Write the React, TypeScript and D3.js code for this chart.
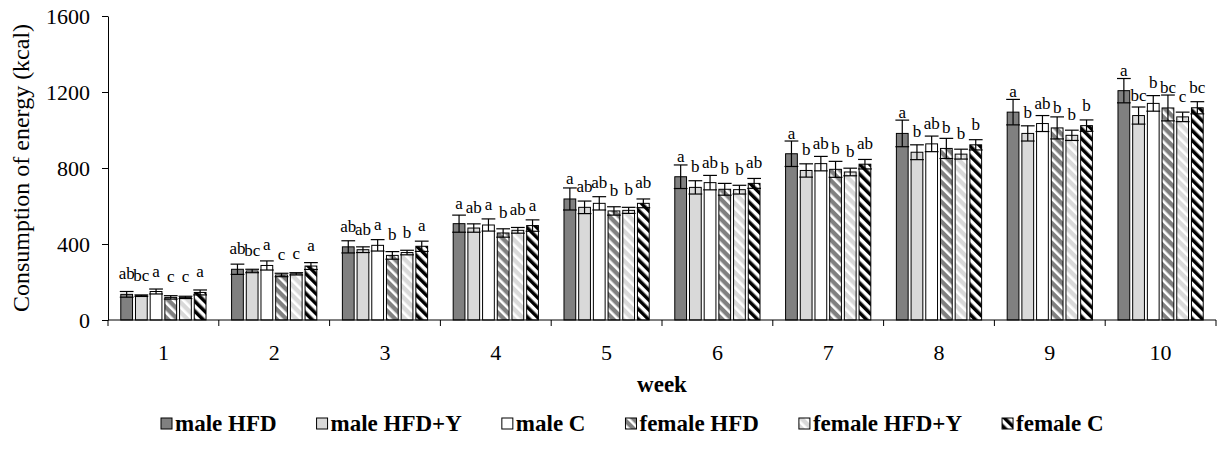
import React, { useEffect, useRef } from "react";
import * as d3 from "d3";

const weeks = ["1", "2", "3", "4", "5", "6", "7", "8", "9", "10"];
const seriesNames = ["male HFD", "male HFD+Y", "male C", "female HFD", "female HFD+Y", "female C"];
const yTicks = [0, 400, 800, 1200, 1600];

// mean consumption per week (kcal)
const maleHFD = [135, 267, 385, 507, 637, 754, 875, 982, 1094, 1207];
const maleHFDY = [128, 258, 370, 484, 593, 698, 787, 883, 982, 1076];
const maleC = [150, 287, 393, 500, 614, 723, 823, 927, 1034, 1140];
const femaleHFD = [119, 237, 340, 458, 574, 688, 793, 903, 1011, 1116];
const femaleHFDY = [119, 243, 355, 472, 577, 686, 779, 873, 972, 1069];
const femaleC = [145, 284, 388, 497, 614, 719, 820, 922, 1023, 1117];

// error (+/-)
const maleHFDErr = [15, 27, 32, 45, 58, 62, 67, 70, 67, 64];
const maleHFDYErr = [4, 9, 15, 22, 33, 35, 35, 39, 40, 45];
const maleCErr = [13, 24, 30, 32, 35, 38, 38, 41, 42, 41];
const femaleHFDErr = [9, 9, 20, 22, 22, 31, 42, 53, 58, 68];
const femaleHFDYErr = [6, 6, 12, 15, 16, 23, 20, 26, 27, 25];
const femaleCErr = [13, 18, 27, 30, 23, 26, 25, 27, 30, 32];

// significance letters
const maleHFDLetters = ["ab", "ab", "ab", "a", "a", "a", "a", "a", "a", "a"];
const maleHFDYLetters = ["bc", "bc", "ab", "ab", "ab", "b", "b", "b", "b", "bc"];
const maleCLetters = ["a", "a", "a", "a", "ab", "ab", "ab", "ab", "ab", "b"];
const femaleHFDLetters = ["c", "c", "b", "b", "b", "b", "b", "b", "b", "bc"];
const femaleHFDYLetters = ["c", "c", "b", "ab", "b", "b", "b", "b", "b", "c"];
const femaleCLetters = ["a", "a", "a", "a", "ab", "ab", "ab", "b", "b", "bc"];

const values = [maleHFD, maleHFDY, maleC, femaleHFD, femaleHFDY, femaleC];
const errors = [maleHFDErr, maleHFDYErr, maleCErr, femaleHFDErr, femaleHFDYErr, femaleCErr];
const letters = [maleHFDLetters, maleHFDYLetters, maleCLetters, femaleHFDLetters, femaleHFDYLetters, femaleCLetters];

const FONT = "'Liberation Serif', 'Times New Roman', serif";

const App = () => {
  const svgRef = useRef<SVGSVGElement>(null);

  useEffect(() => {
    const svg = d3.select(svgRef.current);
    svg.selectAll("*").remove();

    const width = 1217;
    const margin = { left: 108, right: 1, top: 16, bottom: 320 };

    // stripe patterns for the female groups
    const defs = svg.append("defs");
    const stripe = (id: string, bg: string, fg: string, fgWidth: number) => {
      const p = defs
        .append("pattern")
        .attr("id", id)
        .attr("patternUnits", "userSpaceOnUse")
        .attr("width", 7)
        .attr("height", 7)
        .attr("patternTransform", "rotate(-45)");
      p.append("rect").attr("width", 7).attr("height", 7).attr("fill", bg);
      p.append("rect").attr("width", fgWidth).attr("height", 7).attr("fill", fg);
    };
    stripe("pFemHFD", "#808080", "#ffffff", 2.6);
    stripe("pFemHFDY", "#d9d9d9", "#ffffff", 2.6);
    stripe("pFemC", "#ffffff", "#000000", 3.5);

    const fills = ["#808080", "#d9d9d9", "#ffffff", "url(#pFemHFD)", "url(#pFemHFDY)", "url(#pFemC)"];

    const x0 = d3.scaleBand().domain(weeks).range([margin.left, width - 1]).padding(0);
    const x1 = d3
      .scaleBand()
      .domain(seriesNames)
      .range([0, x0.bandwidth()])
      .paddingInner(0.2)
      .paddingOuter(0.87);
    const y = d3.scaleLinear().domain([0, 1600]).range([margin.bottom, margin.top]);

    // y axis
    const yAxis = svg
      .append("g")
      .attr("transform", `translate(${margin.left},0)`)
      .call(d3.axisLeft(y).tickValues(yTicks).tickSize(6).tickSizeOuter(0).tickPadding(12).tickFormat(d3.format("d")));
    yAxis.select(".domain").attr("stroke", "#000").attr("stroke-width", 1);
    yAxis.selectAll(".tick line").attr("stroke", "#000");
    yAxis
      .selectAll(".tick text")
      .attr("fill", "#000")
      .style("font-family", FONT)
      .style("font-size", "22px");

    // bars, error bars and letters (letters sit above the bar top, like Excel data labels)
    const chart = svg.append("g");
    seriesNames.forEach((name, i) => {
      const g = chart.append("g");
      weeks.forEach((w, j) => {
        const v = values[i][j];
        const e = errors[i][j];
        const bx = (x0(w) as number) + (x1(name) as number);
        const bw = x1.bandwidth();
        const cx = bx + bw / 2;
        g.append("rect")
          .attr("x", bx)
          .attr("y", y(v))
          .attr("width", bw)
          .attr("height", y(0) - y(v))
          .attr("fill", fills[i])
          .attr("stroke", "#000")
          .attr("stroke-width", 1);
        g.append("line")
          .attr("x1", cx).attr("x2", cx)
          .attr("y1", y(v - e)).attr("y2", y(v + e))
          .attr("stroke", "#000").attr("stroke-width", 1.2);
        [v - e, v + e].forEach((yy) => {
          g.append("line")
            .attr("x1", cx - bw / 2 - 1).attr("x2", cx + bw / 2 + 1)
            .attr("y1", y(yy)).attr("y2", y(yy))
            .attr("stroke", "#000").attr("stroke-width", 1.2);
        });
        g.append("text")
          .attr("x", cx)
          .attr("y", y(v) - 15)
          .attr("text-anchor", "middle")
          .style("font-family", FONT)
          .style("font-size", "17px")
          .text(letters[i][j]);
      });
    });

    // x axis
    const xAxis = svg.append("g");
    xAxis
      .append("line")
      .attr("x1", margin.left).attr("x2", x0.range()[1])
      .attr("y1", y(0)).attr("y2", y(0))
      .attr("stroke", "#000");
    const edges = weeks.map((w) => x0(w) as number).concat([x0.range()[1]]);
    edges.forEach((ex) => {
      xAxis.append("line")
        .attr("x1", ex).attr("x2", ex)
        .attr("y1", y(0)).attr("y2", y(0) + 6)
        .attr("stroke", "#000");
    });
    weeks.forEach((w) => {
      xAxis.append("text")
        .attr("x", (x0(w) as number) + x0.bandwidth() / 2)
        .attr("y", 360)
        .attr("text-anchor", "middle")
        .style("font-family", FONT)
        .style("font-size", "22px")
        .text(w);
    });

    // axis titles
    svg.append("text")
      .attr("transform", `translate(29,168) rotate(-90)`)
      .attr("text-anchor", "middle")
      .style("font-family", FONT)
      .style("font-size", "24px")
      .text("Consumption of energy (kcal)");
    svg.append("text")
      .attr("x", (margin.left + x0.range()[1]) / 2)
      .attr("y", 392)
      .attr("text-anchor", "middle")
      .style("font-family", FONT)
      .style("font-size", "23px")
      .style("font-weight", "bold")
      .text("week");

    // legend
    const legend = svg.append("g");
    let lx = 161;
    seriesNames.forEach((name, i) => {
      legend.append("rect")
        .attr("x", lx).attr("y", 418)
        .attr("width", 11).attr("height", 11)
        .attr("fill", fills[i])
        .attr("stroke", "#000");
      const t = legend.append("text")
        .attr("x", lx + 14)
        .attr("y", 431)
        .style("font-family", FONT)
        .style("font-size", "23px")
        .style("font-weight", "bold")
        .text(name);
      const tw = (t.node() as SVGTextElement).getComputedTextLength();
      lx += 14 + tw + 40;
    });
  }, []);

  return (
    <svg
      ref={svgRef}
      width={1217}
      height={450}
      style={{ position: "absolute", left: 0, top: 0, background: "#fff" }}
    />
  );
};

export default App;
